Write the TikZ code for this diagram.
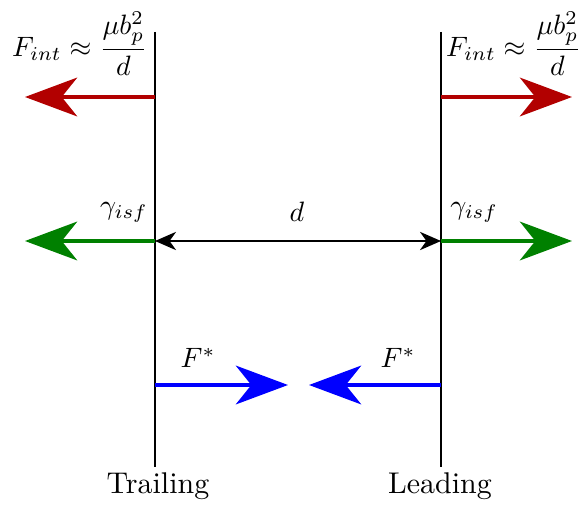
\documentclass[tikz,border=0pt]{standalone}
\usepackage{amsmath}
\usetikzlibrary{arrows.meta}
\definecolor{fred}{RGB}{178,0,0}
\definecolor{fgreen}{RGB}{0,128,0}
\definecolor{fblue}{RGB}{0,0,255}
\begin{document}
\begin{tikzpicture}[x=0.357pt,y=-0.357pt,
  wall/.style={draw=black,line width=0.75pt},
  force/.style={line width=1.5pt,-{Stealth[length=18.6pt,width=13.8pt,inset=5.5pt]}},
  dist/.style={line width=0.75pt,{Stealth[length=7.5pt,width=6.5pt,inset=2.3pt]}-{Stealth[length=7.5pt,width=6.5pt,inset=2.3pt]}},
  lbl/.style={inner sep=0pt},
  wlbl/.style={inner sep=0pt,font=\fontsize{10.7}{13}\selectfont}]
\useasboundingbox (0,0) rectangle (582,504);
% walls
\coordinate (LT) at (155,32);
\coordinate (LB) at (155,467);
\coordinate (RT) at (441,32);
\coordinate (RB) at (441,467);
\draw[wall] (LT) -- (LB);
\draw[wall] (RT) -- (RB);
\node[wlbl] (trail) at (158,486) {Trailing};
\node[wlbl] (lead) at (440,486) {Leading};
% red
\coordinate (LR) at (155,97);
\coordinate (LRt) at (25,97);
\coordinate (RR) at (441,97);
\coordinate (RRt) at (572,97);
\draw[force,fred] (LR) -- (LRt);
\draw[force,fred] (RR) -- (RRt);
\node[lbl] (fl) at (80,44) {$F_{int}\approx\dfrac{\mu b_p^2}{d}$};
\node[lbl] (fr) at (514,44) {$F_{int}\approx\dfrac{\mu b_p^2}{d}$};
% green
\coordinate (LG) at (155,241);
\coordinate (LGt) at (25,241);
\coordinate (RG) at (441,241);
\coordinate (RGt) at (572,241);
\draw[force,fgreen] (LG) -- (LGt);
\draw[force,fgreen] (RG) -- (RGt);
\draw[dist] (LG) -- (RG);
\node[lbl] (gl) at (124,212) {$\gamma_{isf}$};
\node[lbl] (gr) at (474,212) {$\gamma_{isf}$};
\node[lbl] (dl) at (297,212) {$d$};
% blue
\coordinate (LBl) at (155,385);
\coordinate (LBt) at (288,385);
\coordinate (RBl) at (441,385);
\coordinate (RBt) at (309,385);
\draw[force,fblue] (LBl) -- (LBt);
\draw[force,fblue] (RBl) -- (RBt);
\node[lbl] (sl) at (198,358) {$F^{*}$};
\node[lbl] (sr) at (398,358) {$F^{*}$};
\end{tikzpicture}
\end{document}
